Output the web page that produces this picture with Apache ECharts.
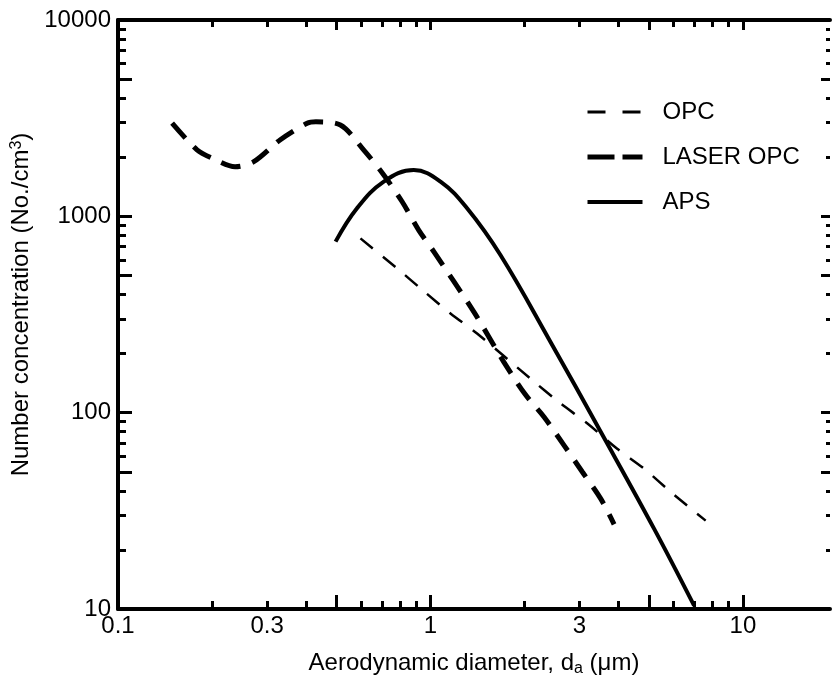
<!DOCTYPE html>
<html>
<head>
<meta charset="utf-8">
<script src="https://cdn.jsdelivr.net/npm/echarts@6/dist/echarts.min.js"></script>
<style>
html,body{margin:0;padding:0;background:#fff;}
#chart{width:832px;height:682px;}
</style>
</head>
<body>
<div id="chart"></div>
<script>
// ---- data ----
const opcX   = [0.597, 0.782, 0.929, 1.159, 1.41, 2.09, 2.58, 3.18, 3.96, 4.83, 5.88, 7.6];
const opcY   = [772, 543, 430, 320, 253, 149, 113, 88, 65.5, 51.8, 39.4, 28.2];

const laserX = [0.149, 0.179, 0.2, 0.237, 0.272, 0.33, 0.403, 0.43, 0.515, 0.611, 0.709, 0.811, 0.917, 1.025, 1.377, 1.718, 2.01, 2.31, 2.68, 3.06, 3.51, 3.87];
const laserY = [2980, 2180, 1980, 1790, 1900, 2450, 2980, 3030, 2920, 2180, 1625, 1190, 851, 661, 326, 181, 124, 95, 68, 50, 36.4, 27];

const apsX   = [0.497, 0.582, 0.709, 0.884, 1.077, 1.31, 1.675, 2.42, 3.51, 5.2, 6.98];
const apsY   = [743, 1099, 1503, 1722, 1503, 1099, 635, 230, 79.7, 25.6, 10.4];

const seriesNames = ['OPC', 'LASER OPC', 'APS'];

const xTickLabels = [0.1, 0.3, 1, 3, 10];
const yTickLabels = [10, 100, 1000, 10000];
const xMajorTicks = [0.5, 1, 5, 10];
const xMinorTicks = [0.2, 0.3, 0.4, 0.6, 0.7, 0.8, 0.9, 2, 3, 4, 6, 7, 8, 9];
const yMajorTicks = [50, 100, 500, 1000, 5000];
const yMinorTicks = [20, 30, 40, 60, 70, 80, 90, 200, 300, 400, 600, 700, 800, 900, 2000, 3000, 4000, 6000, 7000, 8000, 9000];

// ---- chart ----
const FONT = 'Liberation Sans, Arial, Helvetica, sans-serif';
const FS = 24;
const pair = (xs, ys) => xs.map((x, i) => [x, ys[i]]);
const fmt = v => String(+(+v).toPrecision(3));

function xAx(pos, ticks, len, withLine, withLabel) {
  return {
    type: 'log', logBase: 10, min: 0.1, max: 19, position: pos,
    splitLine: {show: false},
    axisLine: {show: withLine, lineStyle: {color: '#000', width: 4}},
    axisTick: {show: true, inside: true, length: len, customValues: ticks, lineStyle: {color: '#000', width: 3}},
    axisLabel: withLabel ? {show: true, customValues: xTickLabels, formatter: fmt, color: '#000', fontSize: FS, fontFamily: FONT, margin: 5} : {show: false},
    name: withLabel ? 'Aerodynamic diameter, d{sub|a} (μm)' : '',
    nameLocation: 'middle', nameGap: 40,
    nameTextStyle: {color: '#000', fontSize: FS, fontFamily: FONT,
      rich: {sub: {fontSize: 16, verticalAlign: 'bottom', padding: [12, 0, 0, 0], color: '#000', fontFamily: FONT}}}
  };
}
function yAx(pos, ticks, len, withLine, withLabel) {
  return {
    type: 'log', logBase: 10, min: 10, max: 10000, position: pos,
    splitLine: {show: false},
    axisLine: {show: withLine, lineStyle: {color: '#000', width: 4}},
    axisTick: {show: true, inside: true, length: len, customValues: ticks, lineStyle: {color: '#000', width: 3}},
    axisLabel: withLabel ? {show: true, customValues: yTickLabels, formatter: fmt, color: '#000', fontSize: FS, fontFamily: FONT, margin: 7} : {show: false},
    name: withLabel ? 'Number concentration (No./cm{sup|3})' : '',
    nameLocation: 'middle', nameGap: 80, nameRotate: 90,
    nameTextStyle: {color: '#000', fontSize: FS, fontFamily: FONT, padding: [0, 0, 0, 20],
      rich: {sup: {fontSize: 16, verticalAlign: 'top', padding: [0, 0, 10, 0], color: '#000', fontFamily: FONT}}}
  };
}

const chart = echarts.init(document.getElementById('chart'), null, {renderer: 'canvas'});
chart.setOption({
  backgroundColor: '#fff',
  animation: false,
  grid: {left: 118, top: 20, width: 712, height: 590, containLabel: false},
  legend: {
    orient: 'vertical', left: 580, top: 95,
    itemWidth: 55, itemHeight: 14, itemGap: 21,
    itemStyle: {color: 'transparent', borderWidth: 0, opacity: 0},
    textStyle: {color: '#000', fontSize: FS, fontFamily: FONT, padding: [0, 0, 0, 15]},
    data: [
      {name: seriesNames[0], lineStyle: {type: [18, 17], width: 3, color: '#000'}},
      {name: seriesNames[1], lineStyle: {type: [27, 8], width: 5, color: '#000'}},
      {name: seriesNames[2], lineStyle: {type: 'solid', width: 4, color: '#000'}}
    ]
  },
  xAxis: [
    xAx('bottom', xMajorTicks, 14, true, true),
    xAx('bottom', xMinorTicks, 8, false, false),
    xAx('top', xMajorTicks, 10, true, false),
    xAx('top', xMinorTicks, 7, false, false)
  ],
  yAxis: [
    yAx('left', yMajorTicks, 14, true, true),
    yAx('left', yMinorTicks, 8, false, false),
    yAx('right', yMajorTicks, 9, false, false),
    yAx('right', yMinorTicks, 4, false, false)
  ],
  series: [
    {name: seriesNames[0], type: 'line', smooth: 0.3, symbol: 'none', data: pair(opcX, opcY),
     lineStyle: {color: '#000', width: 2.5, type: [16, 13]}, itemStyle: {color: '#000'}},
    {name: seriesNames[1], type: 'line', smooth: 0.3, symbol: 'none', data: pair(laserX, laserY),
     lineStyle: {color: '#000', width: 5, type: [20, 12]}, itemStyle: {color: '#000'}},
    {name: seriesNames[2], type: 'line', smooth: 0.4, symbol: 'none', data: pair(apsX, apsY),
     lineStyle: {color: '#000', width: 4}, itemStyle: {color: '#000'}}
  ]
});
</script>
</body>
</html>
